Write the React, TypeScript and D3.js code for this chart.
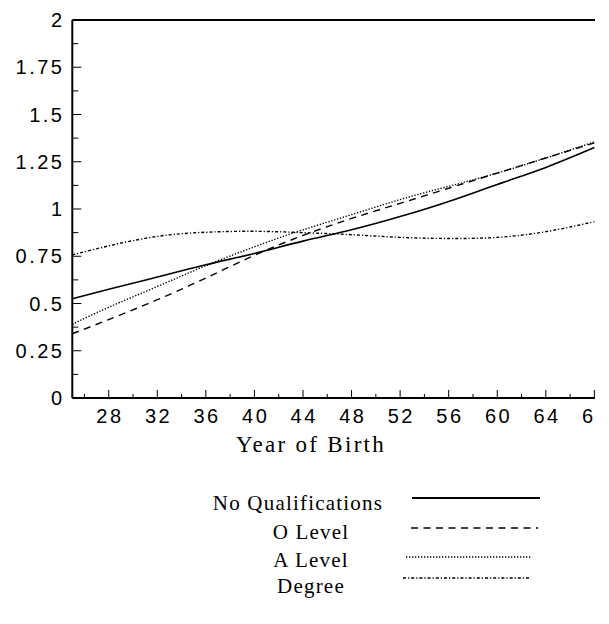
import React from "react";
import * as d3 from "d3";

const years = [25, 28, 32, 36, 40, 44, 48, 52, 56, 60, 64, 68];
const noQualifications = [0.525, 0.575, 0.64, 0.705, 0.765, 0.83, 0.89, 0.96, 1.04, 1.13, 1.22, 1.325];
const oLevel = [0.34, 0.415, 0.52, 0.635, 0.755, 0.86, 0.95, 1.03, 1.11, 1.19, 1.27, 1.35];
const aLevel = [0.39, 0.48, 0.59, 0.70, 0.80, 0.89, 0.97, 1.05, 1.12, 1.19, 1.27, 1.355];
const degree = [0.757, 0.805, 0.855, 0.877, 0.882, 0.875, 0.864, 0.85, 0.844, 0.85, 0.88, 0.933];

const seriesNames = ["No Qualifications", "O Level", "A Level", "Degree"];
const xMajorTicks = [28, 32, 36, 40, 44, 48, 52, 56, 60, 64, 68];
const xMinorTicks = [26, 30, 34, 38, 42, 46, 50, 54, 58, 62, 66];
const yMajorTicks = [0, 0.25, 0.5, 0.75, 1, 1.25, 1.5, 1.75, 2];
const yMinorTicks = [0.125, 0.375, 0.625, 0.875, 1.125, 1.375, 1.625, 1.875];
const yTickLabels = ["0", "0.25", "0.5", "0.75", "1", "1.25", "1.5", "1.75", "2"];

const dashes = ["none", "7,5.5", "1.3,1.7", "3,2,1.2,2"];

export default function App() {
  const left = 72.3;
  const right = 595;
  const top = 20;
  const bottom = 398;
  const x = d3.scaleLinear().domain([25, 68.05]).range([left, right]);
  const y = d3.scaleLinear().domain([0, 2]).range([bottom, top]);
  const allSeries = [noQualifications, oLevel, aLevel, degree];
  const line = d3
    .line<number>()
    .x((_, i) => x(years[i]))
    .y((d) => y(d))
    .curve(d3.curveNatural);

  const legendRows = [
    { ty: 510, tx: 298, ly: 498, x1: 412, x2: 540 },
    { ty: 539, tx: 311, ly: 528, x1: 411, x2: 538 },
    { ty: 567, tx: 311, ly: 557, x1: 406, x2: 531 },
    { ty: 593, tx: 311, ly: 578, x1: 403, x2: 531 },
  ];

  return (
    <svg
      width={609}
      height={624}
      style={{ position: "absolute", left: 0, top: 0, background: "#fff" }}
    >
      <defs>
        <clipPath id="clipR">
          <rect x={0} y={0} width={right} height={624} />
        </clipPath>
      </defs>
      <g clipPath="url(#clipR)">
        {allSeries.map((s, i) => (
          <path
            key={i}
            d={line(s) || ""}
            fill="none"
            stroke="#000"
            strokeWidth={i === 0 ? 1.6 : 1.4}
            strokeDasharray={dashes[i]}
          />
        ))}
        <line x1={left} x2={right} y1={top} y2={top} stroke="#000" strokeWidth={2} />
        <line x1={left} x2={right} y1={bottom} y2={bottom} stroke="#000" strokeWidth={2} />
        <line x1={left} x2={left} y1={top} y2={bottom} stroke="#000" strokeWidth={2} />
        {xMajorTicks.map((t) => (
          <line key={"xm" + t} x1={x(t)} x2={x(t)} y1={bottom} y2={bottom - 8} stroke="#000" strokeWidth={1} />
        ))}
        {xMinorTicks.map((t) => (
          <line key={"xn" + t} x1={x(t)} x2={x(t)} y1={bottom} y2={bottom - 4} stroke="#000" strokeWidth={1} />
        ))}
        {yMajorTicks.map((t) => (
          <line key={"ym" + t} x1={left} x2={left + 9} y1={y(t)} y2={y(t)} stroke="#000" strokeWidth={1} />
        ))}
        {yMinorTicks.map((t) => (
          <line key={"yn" + t} x1={left} x2={left + 6} y1={y(t)} y2={y(t)} stroke="#000" strokeWidth={1} />
        ))}
        {xMajorTicks.map((t) => (
          <text
            key={"xl" + t}
            x={x(t) + 1.25}
            y={423}
            textAnchor="middle"
            fontFamily="'Liberation Sans', Arial, sans-serif"
            fontSize={20}
            letterSpacing={2.5}
          >
            {t}
          </text>
        ))}
        {yMajorTicks.map((t, i) => (
          <text
            key={"yl" + t}
            x={62 + 2.5}
            y={y(t) + 7}
            textAnchor="end"
            fontFamily="'Liberation Sans', Arial, sans-serif"
            fontSize={20}
            letterSpacing={2.5}
          >
            {yTickLabels[i]}
          </text>
        ))}
      </g>
      <text
        x={311}
        y={452}
        textAnchor="middle"
        fontFamily="'Liberation Serif', 'Times New Roman', serif"
        fontSize={23}
        letterSpacing={2.3}
      >
        Year of Birth
      </text>
      {legendRows.map((r, i) => (
        <g key={"lg" + i}>
          <text
            x={r.tx}
            y={r.ty}
            textAnchor="middle"
            fontFamily="'Liberation Serif', 'Times New Roman', serif"
            fontSize={21}
            letterSpacing={1.2}
          >
            {seriesNames[i]}
          </text>
          <line
            x1={r.x1}
            x2={r.x2}
            y1={r.ly}
            y2={r.ly}
            stroke="#000"
            strokeWidth={i === 0 ? 1.8 : 1.4}
            strokeDasharray={dashes[i]}
          />
        </g>
      ))}
    </svg>
  );
}
